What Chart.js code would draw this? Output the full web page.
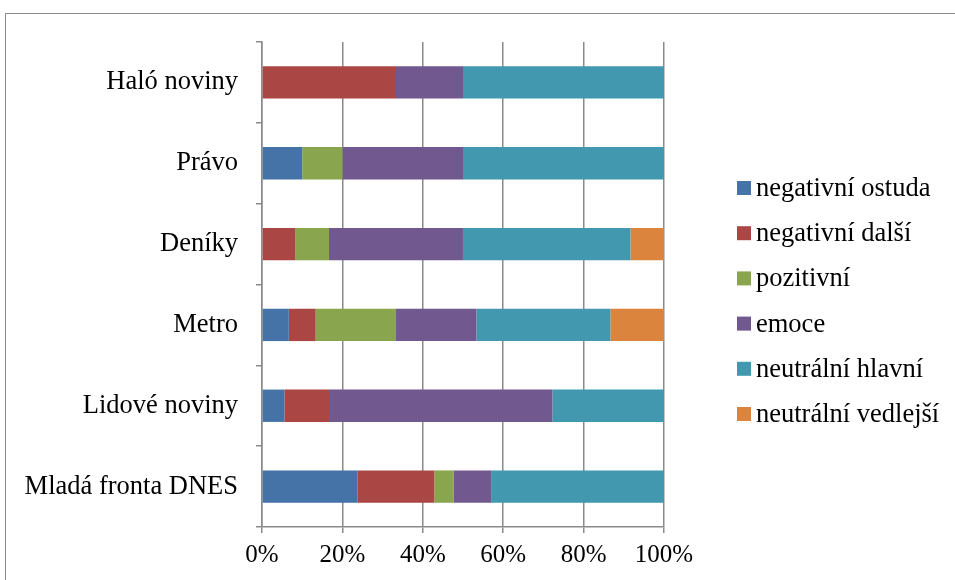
<!DOCTYPE html>
<html>
<head>
<meta charset="utf-8">
<script src="https://cdn.jsdelivr.net/npm/chart.js@4"></script>
<style>
    body { margin: 0; background: #fff; }
    #wrap { position: relative; width: 955px; height: 580px; overflow: hidden; }
    #frame { position: absolute; left: 5px; top: 13px; width: 1000px; height: 1000px; border: 1.5px solid #8a8a8a; }
    canvas { position: absolute; left: 0; top: 0; }
</style>
</head>
<body>
<div id="wrap">
    <div id="frame"></div>
    <canvas id="chart" width="955" height="580"></canvas>
</div>
<script>
// Data (shares in %), top to bottom
const categories = ['Haló noviny', 'Právo', 'Deníky', 'Metro', 'Lidové noviny', 'Mladá fronta DNES'];
const seriesNames = ['negativní ostuda', 'negativní další', 'pozitivní', 'emoce', 'neutrální hlavní', 'neutrální vedlejší'];
const negOstuda   = [0,    10, 0,    6.67,  5.56,  23.81];
const negDalsi    = [33.33, 0, 8.33, 6.67,  11.11, 19.05];
const pozitivni   = [0,    10, 8.33, 20,    0,     4.76];
const emoce       = [16.67, 30, 33.33, 20,  55.56, 9.52];
const neutHlavni  = [50,   50, 41.67, 33.33, 27.78, 42.86];
const neutVedlejsi = [0,    0, 8.33, 13.33, 0,     0];
const xTicks = [0, 20, 40, 60, 80, 100];

const colors = ['#4572A7', '#AA4643', '#89A54E', '#71588F', '#4198AF', '#DB843D'];
const values = [negOstuda, negDalsi, pozitivni, emoce, neutHlavni, neutVedlejsi];
const FONT = '"Liberation Serif", "Times New Roman", serif';
const AXIS = '#8a8a8a';

// legend drawn on the right, like the original
const sideLegend = {
    id: 'sideLegend',
    afterDraw(chart) {
        const ctx = chart.ctx;
        ctx.save();
        ctx.font = '26.5px ' + FONT;
        ctx.textBaseline = 'middle';
        chart.data.datasets.forEach((ds, i) => {
            const y = 188 + i * 45.2;
            ctx.fillStyle = ds.backgroundColor;
            ctx.fillRect(737, y - 7, 14, 14);
            ctx.fillStyle = '#000';
            ctx.fillText(ds.label, 756, y + 1);
        });
        ctx.restore();
    }
};

new Chart(document.getElementById('chart'), {
    type: 'bar',
    data: {
        labels: categories,
        datasets: seriesNames.map((name, i) => ({
            label: name,
            data: values[i],
            backgroundColor: colors[i],
            borderWidth: 0,
            barPercentage: 0.4,
            categoryPercentage: 1.0
        }))
    },
    options: {
        indexAxis: 'y',
        responsive: false,
        animation: false,
        devicePixelRatio: 1,
        layout: { padding: { top: 42, right: 291, bottom: 0, left: 0 } },
        plugins: {
            legend: { display: false },
            tooltip: { enabled: false }
        },
        scales: {
            x: {
                stacked: true,
                min: 0,
                max: 100,
                afterBuildTicks: s => { s.ticks = xTicks.map(v => ({ value: v })); },
                afterFit: s => { s.height = 53; },
                border: { color: AXIS, width: 1.5 },
                grid: { color: AXIS, lineWidth: 1.5, tickLength: 6 },
                ticks: {
                    color: '#000',
                    padding: 7,
                    font: { family: FONT, size: 25 },
                    callback: v => v + '%'
                }
            },
            y: {
                stacked: true,
                afterFit: s => { s.width = 262; },
                border: { color: AXIS, width: 1.5 },
                grid: { color: AXIS, lineWidth: 1.5, tickLength: 6, drawOnChartArea: false, offset: true },
                ticks: {
                    color: '#000',
                    padding: 18,
                    font: { family: FONT, size: 26.5 }
                }
            }
        }
    },
    plugins: [sideLegend]
});
</script>
</body>
</html>
